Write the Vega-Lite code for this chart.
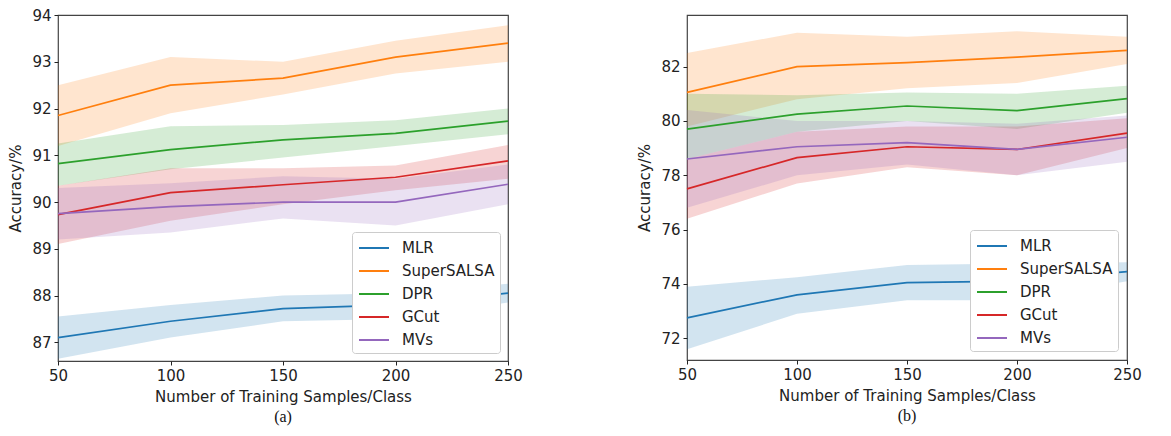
{
  "$schema": "https://vega.github.io/schema/vega-lite/v6.json",
  "autosize": {"type": "pad"},
  "padding": {"left": 8, "top": 7, "right": 0, "bottom": 0},
  "background": "white",
  "bounds": "flush",
  "spacing": 179,
  "config": {
    "view": {"stroke": "#444", "strokeWidth": 1.2},
    "font": "DejaVu Sans",
    "axis": {
      "domain": false, "grid": false, "ticks": true, "tickColor": "#222", "tickSize": 4,
      "labelFont": "DejaVu Sans", "labelFontSize": 15, "labelColor": "#222", "labelPadding": 3,
      "titleFont": "DejaVu Sans", "titleFontSize": 15, "titleFontWeight": "normal", "titleColor": "#222"
    },
    "legend": {
      "labelFont": "DejaVu Sans", "labelFontSize": 15, "labelColor": "#222"
    },
    "title": {"font": "Liberation Serif", "fontSize": 16, "fontWeight": "normal", "color": "#111"}
  },
  "datasets": {
    "rows": [
      {"p": "a", "m": "MLR", "n": 50, "y": 87.1, "lo": 86.65, "hi": 87.55},
      {"p": "a", "m": "MLR", "n": 100, "y": 87.45, "lo": 87.1, "hi": 87.8},
      {"p": "a", "m": "MLR", "n": 150, "y": 87.72, "lo": 87.45, "hi": 88.0},
      {"p": "a", "m": "MLR", "n": 200, "y": 87.8, "lo": 87.5, "hi": 88.05},
      {"p": "a", "m": "MLR", "n": 250, "y": 88.05, "lo": 87.85, "hi": 88.25},
      {"p": "a", "m": "SuperSALSA", "n": 50, "y": 91.85, "lo": 91.2, "hi": 92.5},
      {"p": "a", "m": "SuperSALSA", "n": 100, "y": 92.5, "lo": 91.9, "hi": 93.1},
      {"p": "a", "m": "SuperSALSA", "n": 150, "y": 92.65, "lo": 92.3, "hi": 93.0},
      {"p": "a", "m": "SuperSALSA", "n": 200, "y": 93.1, "lo": 92.75, "hi": 93.45},
      {"p": "a", "m": "SuperSALSA", "n": 250, "y": 93.4, "lo": 93.0, "hi": 93.78},
      {"p": "a", "m": "DPR", "n": 50, "y": 90.82, "lo": 90.35, "hi": 91.25},
      {"p": "a", "m": "DPR", "n": 100, "y": 91.12, "lo": 90.7, "hi": 91.62},
      {"p": "a", "m": "DPR", "n": 150, "y": 91.33, "lo": 90.95, "hi": 91.65},
      {"p": "a", "m": "DPR", "n": 200, "y": 91.47, "lo": 91.2, "hi": 91.75},
      {"p": "a", "m": "DPR", "n": 250, "y": 91.73, "lo": 91.45, "hi": 92.0},
      {"p": "a", "m": "GCut", "n": 50, "y": 89.73, "lo": 89.1, "hi": 90.35},
      {"p": "a", "m": "GCut", "n": 100, "y": 90.2, "lo": 89.6, "hi": 90.72},
      {"p": "a", "m": "GCut", "n": 150, "y": 90.37, "lo": 89.95, "hi": 90.72},
      {"p": "a", "m": "GCut", "n": 200, "y": 90.53, "lo": 90.25, "hi": 90.78},
      {"p": "a", "m": "GCut", "n": 250, "y": 90.88, "lo": 90.5, "hi": 91.22},
      {"p": "a", "m": "MVs", "n": 50, "y": 89.75, "lo": 89.2, "hi": 90.3},
      {"p": "a", "m": "MVs", "n": 100, "y": 89.9, "lo": 89.35, "hi": 90.4},
      {"p": "a", "m": "MVs", "n": 150, "y": 90.0, "lo": 89.65, "hi": 90.55},
      {"p": "a", "m": "MVs", "n": 200, "y": 90.0, "lo": 89.5, "hi": 90.5},
      {"p": "a", "m": "MVs", "n": 250, "y": 90.38, "lo": 89.95, "hi": 90.8},
      {"p": "b", "m": "MLR", "n": 50, "y": 72.75, "lo": 71.6, "hi": 73.9},
      {"p": "b", "m": "MLR", "n": 100, "y": 73.6, "lo": 72.9, "hi": 74.25},
      {"p": "b", "m": "MLR", "n": 150, "y": 74.05, "lo": 73.4, "hi": 74.7},
      {"p": "b", "m": "MLR", "n": 200, "y": 74.1, "lo": 73.4, "hi": 74.75},
      {"p": "b", "m": "MLR", "n": 250, "y": 74.45, "lo": 74.1, "hi": 74.8},
      {"p": "b", "m": "SuperSALSA", "n": 50, "y": 81.05, "lo": 79.8, "hi": 82.5},
      {"p": "b", "m": "SuperSALSA", "n": 100, "y": 82.0, "lo": 80.8, "hi": 83.25},
      {"p": "b", "m": "SuperSALSA", "n": 150, "y": 82.15, "lo": 81.2, "hi": 83.1},
      {"p": "b", "m": "SuperSALSA", "n": 200, "y": 82.35, "lo": 81.4, "hi": 83.3},
      {"p": "b", "m": "SuperSALSA", "n": 250, "y": 82.6, "lo": 82.1, "hi": 83.1},
      {"p": "b", "m": "DPR", "n": 50, "y": 79.7, "lo": 78.6, "hi": 81.0},
      {"p": "b", "m": "DPR", "n": 100, "y": 80.25, "lo": 79.6, "hi": 80.95},
      {"p": "b", "m": "DPR", "n": 150, "y": 80.55, "lo": 80.0, "hi": 81.05},
      {"p": "b", "m": "DPR", "n": 200, "y": 80.38, "lo": 79.7, "hi": 81.0},
      {"p": "b", "m": "DPR", "n": 250, "y": 80.82, "lo": 80.3, "hi": 81.3},
      {"p": "b", "m": "GCut", "n": 50, "y": 77.5, "lo": 76.4, "hi": 78.6},
      {"p": "b", "m": "GCut", "n": 100, "y": 78.65, "lo": 77.7, "hi": 79.6},
      {"p": "b", "m": "GCut", "n": 150, "y": 79.05, "lo": 78.3, "hi": 79.8},
      {"p": "b", "m": "GCut", "n": 200, "y": 78.95, "lo": 78.0, "hi": 79.8},
      {"p": "b", "m": "GCut", "n": 250, "y": 79.55, "lo": 79.0, "hi": 80.1},
      {"p": "b", "m": "MVs", "n": 50, "y": 78.6, "lo": 76.8, "hi": 80.4},
      {"p": "b", "m": "MVs", "n": 100, "y": 79.05, "lo": 78.0, "hi": 80.0},
      {"p": "b", "m": "MVs", "n": 150, "y": 79.2, "lo": 78.4, "hi": 80.0},
      {"p": "b", "m": "MVs", "n": 200, "y": 78.95, "lo": 78.0, "hi": 79.9},
      {"p": "b", "m": "MVs", "n": 250, "y": 79.4, "lo": 78.5, "hi": 80.2}
    ]
  },
  "resolve": {"scale": {"color": "independent", "y": "independent"}, "legend": {"color": "independent"}},
  "hconcat": [
    {
      "width": 450, "height": 346,
      "data": {"name": "rows"},
      "transform": [{"filter": "datum.p === 'a'"}],
      "title": {"text": "(a)", "orient": "bottom", "offset": 5},
      "encoding": {
        "x": {"field": "n", "type": "quantitative", "scale": {"domain": [50, 250], "nice": false, "zero": false},
              "axis": {"values": [50, 100, 150, 200, 250], "title": "Number of Training Samples/Class", "titlePadding": 6, "labelFlush": false}},
        "color": {"field": "m", "type": "nominal",
                  "scale": {"domain": ["MLR", "SuperSALSA", "DPR", "GCut", "MVs"], "range": ["#1f77b4", "#ff7f0e", "#2ca02c", "#d62728", "#9467bd"]},
                  "legend": {"title": null, "orient": "bottom-right", "offset": 8, "symbolType": "M-1.5,0H1.5", "symbolSize": 400, "symbolStrokeWidth": 2, "symbolOpacity": 1, "symbolOffset": 6, "symbolFillColor": "transparent",
                             "fillColor": "white", "strokeColor": "#ccc", "cornerRadius": 3, "padding": 5, "rowPadding": 4, "labelOffset": 17}}
      },
      "layer": [
        {
          "mark": {"type": "area", "opacity": 0.2},
          "encoding": {
            "y": {"field": "lo", "type": "quantitative", "scale": {"domain": [86.6, 94], "nice": false, "zero": false},
                  "axis": {"values": [87, 88, 89, 90, 91, 92, 93, 94], "title": "Accuracy/%", "titlePadding": 8}},
            "y2": {"field": "hi"}
          }
        },
        {
          "mark": {"type": "line", "strokeWidth": 1.7},
          "encoding": {
            "y": {"field": "y", "type": "quantitative"}
          }
        }
      ]
    },
    {
      "width": 440, "height": 345,
      "data": {"name": "rows"},
      "transform": [{"filter": "datum.p === 'b'"}],
      "title": {"text": "(b)", "orient": "bottom", "offset": 5},
      "encoding": {
        "x": {"field": "n", "type": "quantitative", "scale": {"domain": [50, 250], "nice": false, "zero": false},
              "axis": {"values": [50, 100, 150, 200, 250], "title": "Number of Training Samples/Class", "titlePadding": 6, "labelFlush": false}},
        "color": {"field": "m", "type": "nominal",
                  "scale": {"domain": ["MLR", "SuperSALSA", "DPR", "GCut", "MVs"], "range": ["#1f77b4", "#ff7f0e", "#2ca02c", "#d62728", "#9467bd"]},
                  "legend": {"title": null, "orient": "bottom-right", "offset": 9, "symbolType": "M-1.5,0H1.5", "symbolSize": 400, "symbolStrokeWidth": 2, "symbolOpacity": 1, "symbolOffset": 6, "symbolFillColor": "transparent",
                             "fillColor": "white", "strokeColor": "#ccc", "cornerRadius": 3, "padding": 5, "rowPadding": 4, "labelOffset": 17}}
      },
      "layer": [
        {
          "mark": {"type": "area", "opacity": 0.2},
          "encoding": {
            "y": {"field": "lo", "type": "quantitative", "scale": {"domain": [71.2, 83.9], "nice": false, "zero": false},
                  "axis": {"values": [72, 74, 76, 78, 80, 82], "title": "Accuracy/%", "titlePadding": 8}},
            "y2": {"field": "hi"}
          }
        },
        {
          "mark": {"type": "line", "strokeWidth": 1.7},
          "encoding": {
            "y": {"field": "y", "type": "quantitative"}
          }
        }
      ]
    }
  ]
}
